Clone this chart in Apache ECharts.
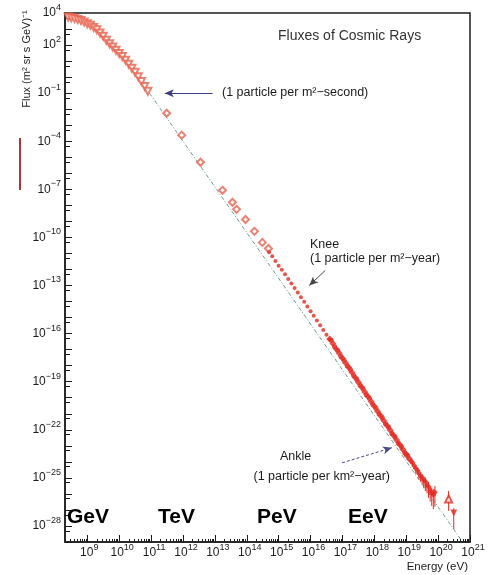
<!DOCTYPE html>
<html>
<head>
<meta charset="utf-8">
<title>Fluxes of Cosmic Rays</title>
<script src="https://cdn.jsdelivr.net/npm/echarts@6/dist/echarts.min.js"></script>
<style>
  html, body { margin: 0; padding: 0; background: #fff; }
  #chart { width: 491px; height: 575px; }
</style>
</head>
<body>
<div id="chart"></div>
<script>
// Values are log10: energy in eV, flux in (m^2 sr s GeV)^-1

// Direct measurements (open triangles)
const lowE = [8.4, 8.5, 8.6, 8.7, 8.8, 8.9, 9.0, 9.1, 9.2, 9.3, 9.4, 9.5, 9.6, 9.7, 9.8, 9.9, 10.0, 10.1, 10.2, 10.3, 10.4, 10.5, 10.6, 10.7, 10.8, 10.9];
const lowF = [3.75, 3.70, 3.65, 3.60, 3.53, 3.44, 3.33, 3.23, 3.10, 2.95, 2.75, 2.55, 2.30, 2.08, 1.88, 1.68, 1.48, 1.28, 1.05, 0.80, 0.55, 0.30, 0.02, -0.28, -0.58, -0.88];

// Balloon / satellite (open diamonds)
const diaE = [11.49, 11.96, 12.55, 13.24, 13.55, 13.68, 13.96, 14.24, 14.49, 14.68];
const diaF = [-2.25, -3.62, -5.31, -7.06, -7.81, -8.25, -8.88, -9.62, -10.31, -10.69];

// Air showers around the knee (small filled dots)
const kneeE = [14.7, 14.8, 14.9, 15.0, 15.1, 15.2, 15.3, 15.4, 15.5, 15.6, 15.7, 15.8, 15.9, 16.0, 16.1, 16.2, 16.3, 16.4, 16.5, 16.6];
const kneeF = [-10.92, -11.18, -11.47, -11.76, -12.02, -12.30, -12.59, -12.87, -13.15, -13.44, -13.73, -14.02, -14.31, -14.60, -14.89, -15.18, -15.48, -15.77, -16.07, -16.36];

// Two overlapping experiments up to the ankle
const bandAE = [16.6, 16.7, 16.8, 16.9, 17.0, 17.1, 17.2, 17.3, 17.4, 17.5, 17.6, 17.7, 17.8, 17.9, 18.0, 18.1, 18.2, 18.3, 18.4, 18.5, 18.6, 18.7, 18.8, 18.9, 19.0, 19.1];
const bandAF = [-16.33, -16.62, -16.94, -17.22, -17.53, -17.84, -18.12, -18.43, -18.74, -19.03, -19.33, -19.64, -19.93, -20.24, -20.53, -20.84, -21.13, -21.44, -21.73, -22.03, -22.34, -22.63, -22.94, -23.23, -23.52, -23.80];
const bandBE = [16.65, 16.75, 16.85, 16.95, 17.05, 17.15, 17.25, 17.35, 17.45, 17.55, 17.65, 17.75, 17.85, 17.95, 18.05, 18.15, 18.25, 18.35, 18.45, 18.55, 18.65, 18.75, 18.85, 18.95, 19.05];
const bandBF = [-16.42, -16.80, -17.05, -17.41, -17.66, -18.01, -18.25, -18.62, -18.86, -19.21, -19.45, -19.82, -20.05, -20.41, -20.66, -21.02, -21.26, -21.62, -21.85, -22.22, -22.45, -22.83, -23.06, -23.42, -23.62];
const bandBErr = [0, 0, 0, 0, 0, 0, 0, 0, 0, 0, 0, 0, 0, 0, 0, 0, 0.12, 0.15, 0.15, 0.18, 0.2, 0.2, 0.25, 0.25, 0.3];

// Beyond the ankle (with error bars)
const tailE = [19.15, 19.2, 19.25, 19.3, 19.35, 19.4, 19.45, 19.5, 19.55, 19.6, 19.65, 19.7, 19.75, 19.8, 19.85, 19.9];
const tailF = [-23.95, -24.05, -24.25, -24.40, -24.52, -24.70, -24.88, -24.98, -25.15, -25.22, -25.45, -25.55, -25.78, -25.95, -26.05, -25.90];
const tailUp = [0.1, 0.12, 0.1, 0.15, 0.12, 0.18, 0.15, 0.2, 0.2, 0.25, 0.22, 0.3, 0.3, 0.35, 0.35, 0.4];
const tailDown = [0.2, 0.25, 0.2, 0.35, 0.3, 0.4, 0.35, 0.45, 0.5, 0.6, 0.5, 0.7, 0.7, 0.8, 0.9, 0.9];

// Highest energy events
const hiOpenE = [20.33], hiOpenF = [-26.31], hiOpenLo = [-27.06], hiOpenHi = [-25.81];
const hiFullE = [20.49], hiFullF = [-27.19], hiFullLo = [-28.19], hiFullHi = [-26.9];

// E^-2.86 guide line
const guideE = [10.95, 20.75];
const guideF = [-1.0, -28.95];

// Axes
const xMin = Math.log10(2e8), xMax = 21;
const yMin = -29, yMax = 4;
const xTickExp = [9, 10, 11, 12, 13, 14, 15, 16, 17, 18, 19, 20, 21];
const yTickExp = [4, 2, -1, -4, -7, -10, -13, -16, -19, -22, -25, -28];

// minor ticks: 2..9 x 10^n on x, 5 x 10^n on y
const xMinor = [];
for (let n = 8; n <= 20; n++) {
    for (let k = 2; k <= 9; k++) {
        const v = n + Math.log10(k);
        if (v > xMin && v < xMax) xMinor.push(v);
    }
}
const yMinor = [];
for (let n = yMin; n < yMax; n++) yMinor.push(n + Math.log10(5));

const pairs = (xs, ys) => xs.map((x, i) => [x, ys[i]]);

function expText(v) {
    const e = Math.round(v);
    return e < 0 ? '\u2212' + (-e) : String(e);
}

function renderErr(params, api) {
    const p1 = api.coord([api.value(0), api.value(1)]);
    const p2 = api.coord([api.value(0), api.value(2)]);
    return {
        type: 'line',
        shape: { x1: p1[0], y1: p1[1], x2: p2[0], y2: p2[1] },
        style: { stroke: api.visual('color'), lineWidth: 1 }
    };
}

const red = '#e42a22';
const paleRed = '#e8624f';
const ink = '#1c1c1c';
const font = '"Liberation Sans", Arial, sans-serif';

const errData = []
    .concat(bandBE.map((e, i) => [e, bandBF[i] - bandBErr[i], bandBF[i] + bandBErr[i] * 0.6]).filter((d, i) => bandBErr[i] > 0))
    .concat(tailE.map((e, i) => [e, tailF[i] - tailDown[i], tailF[i] + tailUp[i]]))
    .concat([[hiOpenE[0], hiOpenLo[0], hiOpenHi[0]], [hiFullE[0], hiFullLo[0], hiFullHi[0]]]);

const chart = echarts.init(document.getElementById('chart'));

const option = {
    animation: false,
    backgroundColor: '#fff',
    grid: { left: 65, top: 13, right: 21, bottom: 33, show: true, borderColor: ink, borderWidth: 1.5 },
    xAxis: [
        {
            type: 'value', min: xMin, max: xMax, position: 'bottom',
            axisLine: { onZero: false, lineStyle: { color: ink, width: 1.5 } },
            axisTick: { inside: true, length: 7, customValues: xTickExp, lineStyle: { color: ink } },
            splitLine: { show: false },
            axisLabel: {
                customValues: xTickExp, margin: 1, showMinLabel: true, showMaxLabel: true,
                formatter: v => {
                    const s = expText(v);
                    return '{' + (s.length > 1 ? 'b2' : 'b1') + '|10}{s|' + s + '}';
                },
                rich: {
                    b1: { fontSize: 12, lineHeight: 20, fontFamily: font, color: ink, padding: [0, 0, 0, 4] },
                    b2: { fontSize: 12, lineHeight: 20, fontFamily: font, color: ink, padding: [0, 0, 0, 6] },
                    s: { fontSize: 9, lineHeight: 9, verticalAlign: 'top', fontFamily: font, color: ink }
                }
            }
        },
        {
            type: 'value', min: xMin, max: xMax, position: 'bottom',
            axisLine: { show: false, onZero: false },
            axisTick: { inside: true, length: 3, customValues: xMinor, lineStyle: { color: ink } },
            axisLabel: { show: false },
            splitLine: { show: false }
        }
    ],
    yAxis: [
        {
            type: 'value', min: yMin, max: yMax, interval: 1, position: 'left',
            axisLine: { onZero: false, lineStyle: { color: ink, width: 1.5 } },
            axisTick: { inside: true, length: 7, lineStyle: { color: ink } },
            splitLine: { show: false },
            axisLabel: {
                customValues: yTickExp, margin: 4,
                formatter: v => '{b|10}{s|' + expText(v) + '}',
                rich: {
                    b: { fontSize: 12, lineHeight: 20, fontFamily: font, color: ink },
                    s: { fontSize: 9, lineHeight: 9, verticalAlign: 'top', fontFamily: font, color: ink }
                }
            }
        },
        {
            type: 'value', min: yMin, max: yMax, position: 'left',
            axisLine: { show: false, onZero: false },
            axisTick: { inside: true, length: 5, customValues: yMinor, lineStyle: { color: ink } },
            axisLabel: { show: false },
            splitLine: { show: false }
        }
    ],
    series: [
        {
            name: 'guide', type: 'line', data: pairs(guideE, guideF), showSymbol: false, z: 1,
            lineStyle: { color: '#6f9a92', width: 1, type: [4, 2, 1, 2] },
            markLine: {
                silent: true, symbol: ['none', 'arrow'], symbolSize: [6, 9], label: { show: false },
                data: [
                    [{ coord: [12.93, -1.0], lineStyle: { color: '#3d3d85', width: 1, type: 'solid' } }, { coord: [11.43, -1.0] }],
                    [{ coord: [16.46, -12.06], lineStyle: { color: '#444', width: 1, type: 'solid' } }, { coord: [15.96, -13.0] }],
                    [{ coord: [16.99, -24.06], lineStyle: { color: '#4a4a90', width: 1, type: [3, 2] } }, { coord: [18.55, -23.12] }]
                ]
            }
        },
        {
            name: 'direct', type: 'scatter', data: pairs(lowE, lowF), symbol: 'emptyTriangle', symbolRotate: 180, symbolSize: 7,
            itemStyle: { color: paleRed, borderColor: paleRed, borderWidth: 1 }
        },
        {
            name: 'balloon', type: 'scatter', data: pairs(diaE, diaF), symbol: 'emptyDiamond', symbolSize: 7,
            itemStyle: { color: paleRed, borderColor: paleRed, borderWidth: 1 }
        },
        {
            name: 'errors', type: 'custom', data: errData, renderItem: renderErr,
            encode: { x: 0, y: [1, 2] }, itemStyle: { color: red }, z: 3
        },
        {
            name: 'knee', type: 'scatter', data: pairs(kneeE, kneeF), symbol: 'circle', symbolSize: 4,
            itemStyle: { color: red }
        },
        {
            name: 'bandA', type: 'scatter', data: pairs(bandAE, bandAF), symbol: 'diamond', symbolSize: 7,
            itemStyle: { color: red }
        },
        {
            name: 'bandB', type: 'scatter', data: pairs(bandBE, bandBF), symbol: 'circle', symbolSize: 5,
            itemStyle: { color: red }
        },
        {
            name: 'tail', type: 'scatter', data: pairs(tailE, tailF), symbol: 'diamond', symbolSize: 6,
            itemStyle: { color: red }
        },
        {
            name: 'hiOpen', type: 'scatter', data: pairs(hiOpenE, hiOpenF), symbol: 'emptyTriangle', symbolSize: 7,
            itemStyle: { color: red, borderColor: red, borderWidth: 1 }, z: 4
        },
        {
            name: 'hiFull', type: 'scatter', data: pairs(hiFullE, hiFullF), symbol: 'triangle', symbolRotate: 180, symbolSize: 7,
            itemStyle: { color: red }, z: 4
        }
    ],
    graphic: [
        { type: 'text', x: 27, y: 59, rotation: Math.PI / 2,
          style: { text: 'Flux (m\u00b2 sr s GeV)\u207b\u00b9', font: '11px ' + font, fill: ink, align: 'center', verticalAlign: 'middle', textAlign: 'center', textVerticalAlign: 'middle' } },
        { type: 'rect', shape: { x: 19, y: 138, width: 2, height: 52 }, style: { fill: '#b8303a' } },
        { type: 'text', x: 278, y: 36,
          style: { text: 'Fluxes of Cosmic Rays', font: '14px ' + font, fill: '#333', verticalAlign: 'middle', textVerticalAlign: 'middle' } },
        { type: 'text', x: 222, y: 93,
          style: { text: '(1 particle per m\u00b2\u2212second)', font: '12.5px ' + font, fill: ink, verticalAlign: 'middle', textVerticalAlign: 'middle' } },
        { type: 'text', x: 310, y: 245,
          style: { text: 'Knee', font: '12.5px ' + font, fill: ink, verticalAlign: 'middle', textVerticalAlign: 'middle' } },
        { type: 'text', x: 310, y: 259,
          style: { text: '(1 particle per m\u00b2\u2212year)', font: '12.5px ' + font, fill: ink, verticalAlign: 'middle', textVerticalAlign: 'middle' } },
        { type: 'text', x: 280, y: 457,
          style: { text: 'Ankle', font: '12.5px ' + font, fill: ink, verticalAlign: 'middle', textVerticalAlign: 'middle' } },
        { type: 'text', x: 390, y: 477,
          style: { text: '(1 particle per km\u00b2\u2212year)', font: '12.5px ' + font, fill: ink, align: 'right', textAlign: 'right', verticalAlign: 'middle', textVerticalAlign: 'middle' } },
        { type: 'text', x: 468, y: 567,
          style: { text: 'Energy (eV)', font: '11.5px ' + font, fill: ink, align: 'right', textAlign: 'right', verticalAlign: 'middle', textVerticalAlign: 'middle' } },
        { type: 'text', x: 67, y: 517, z: 10,
          style: { text: 'GeV', font: 'bold 21px ' + font, fill: '#000', verticalAlign: 'middle', textVerticalAlign: 'middle' } },
        { type: 'text', x: 158, y: 517, z: 10,
          style: { text: 'TeV', font: 'bold 21px ' + font, fill: '#000', verticalAlign: 'middle', textVerticalAlign: 'middle' } },
        { type: 'text', x: 257, y: 517, z: 10,
          style: { text: 'PeV', font: 'bold 21px ' + font, fill: '#000', verticalAlign: 'middle', textVerticalAlign: 'middle' } },
        { type: 'text', x: 348, y: 517, z: 10,
          style: { text: 'EeV', font: 'bold 21px ' + font, fill: '#000', verticalAlign: 'middle', textVerticalAlign: 'middle' } }
    ]
};

chart.setOption(option);
</script>
</body>
</html>
